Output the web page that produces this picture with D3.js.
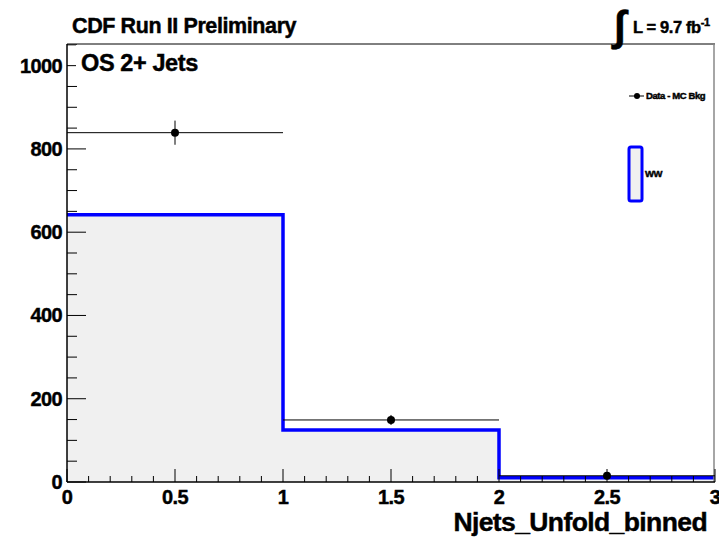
<!DOCTYPE html>
<html><head><meta charset="utf-8">
<script src="https://cdn.jsdelivr.net/npm/d3@7"></script>
<style>body{margin:0;background:#fff}svg{display:block}text{font-family:"Liberation Sans",Arial,sans-serif;font-weight:bold;stroke:#000;stroke-width:0.45px}</style>
</head><body>
<script>
const binEdges = [0, 1, 2, 3];
const mcWW = [642, 125, 10];
const dataX = [0.5, 1.5, 2.5];
const dataY = [839, 149, 15];
const dataErr = [29, 12, 4];
const xTicks = [0, 0.5, 1, 1.5, 2, 2.5, 3];
const yTicks = [0, 200, 400, 600, 800, 1000];

const W = 719, H = 539;
const svg = d3.select("body").append("svg").attr("width", W).attr("height", H);
const L = 67, R = 715, T = 44, B = 482;
const x = d3.scaleLinear().domain([0, 3]).range([L, R]);
const y = d3.scaleLinear().domain([0, 1052]).range([B, T]);

// histogram fill + outline
const stepPts = [];
mcWW.forEach((v, i) => { stepPts.push([binEdges[i], v]); stepPts.push([binEdges[i + 1], v]); });
const area = d3.area().x(d => x(d[0])).y0(y(0)).y1(d => y(d[1]));
svg.append("path").datum(stepPts).attr("d", area).attr("fill", "#f0f0f0");
const line = d3.line().x(d => x(d[0])).y(d => y(d[1]));
svg.append("path").datum(stepPts).attr("d", line).attr("fill", "none")
  .attr("stroke", "#0000ff").attr("stroke-width", 3.5);

// frame top and right
svg.append("line").attr("x1", L).attr("x2", R).attr("y1", T).attr("y2", T).attr("stroke", "#000").attr("stroke-width", 1);
svg.append("line").attr("x1", R - 1).attr("x2", R - 1).attr("y1", T).attr("y2", B).attr("stroke", "#888").attr("stroke-width", 1.5);

// axes ticks (ROOT style, inward)
const g = svg.append("g");
d3.range(0, 1052, 50).forEach(v => {
  const major = v % 200 === 0;
  g.append("line").attr("x1", L).attr("x2", L + (major ? 19 : 10))
    .attr("y1", y(v)).attr("y2", y(v)).attr("stroke", "#000").attr("stroke-width", 1);
});
d3.range(0, 31).forEach(k => {
  const v = k / 10;
  const major = k % 5 === 0;
  g.append("line").attr("x1", x(v)).attr("x2", x(v))
    .attr("y1", B).attr("y2", B - (major ? 13 : 6)).attr("stroke", "#000").attr("stroke-width", 1);
});
g.append("line").attr("x1", L).attr("x2", L).attr("y1", T).attr("y2", B).attr("stroke", "#000").attr("stroke-width", 1.5);
g.append("line").attr("x1", L).attr("x2", R).attr("y1", B).attr("y2", B).attr("stroke", "#000").attr("stroke-width", 1.5);

// tick labels
yTicks.forEach(v => {
  svg.append("text").attr("x", 62).attr("y", y(v) + 7).attr("text-anchor", "end")
    .attr("font-size", 20).attr("letter-spacing", -0.6).text(v);
});
xTicks.forEach(v => {
  svg.append("text").attr("x", x(v)).attr("y", 504).attr("text-anchor", "middle")
    .attr("font-size", 20).attr("letter-spacing", -0.6).text(v);
});

// data points with errors
dataX.forEach((xv, i) => {
  const gx = svg.append("g");
  gx.append("line").attr("x1", x(xv - 0.5)).attr("x2", x(xv + 0.5)).attr("y1", y(dataY[i])).attr("y2", y(dataY[i]))
    .attr("stroke", "#000").attr("stroke-width", 1);
  gx.append("line").attr("x1", x(xv)).attr("x2", x(xv)).attr("y1", y(dataY[i] - dataErr[i])).attr("y2", y(dataY[i] + dataErr[i]))
    .attr("stroke", "#000").attr("stroke-width", 1);
  gx.append("circle").attr("cx", x(xv)).attr("cy", y(dataY[i])).attr("r", 4).attr("fill", "#000");
});

// label pave (white) covering ticks near top-left
svg.append("rect").attr("x", 76).attr("y", 45).attr("width", 135).attr("height", 34).attr("fill", "#fff");

// titles
svg.append("text").attr("x", 72).attr("y", 33).attr("font-size", 21.5).attr("letter-spacing", -0.4).text("CDF Run II Preliminary");
svg.append("text").attr("x", 81).attr("y", 71).attr("font-size", 23.5).attr("letter-spacing", -0.4).text("OS 2+ Jets");
svg.append("text").attr("x", 707).attr("y", 531).attr("text-anchor", "end").attr("font-size", 26.5).attr("letter-spacing", -0.6).text("Njets_Unfold_binned");

// luminosity
svg.append("text").attr("x", 614).attr("y", 40).attr("font-size", 42).attr("font-weight", "normal").attr("stroke-width", 0.8)
  .attr("font-family", "DejaVu Sans").text("\u222B");
const lum = svg.append("text").attr("x", 633).attr("y", 33).attr("font-size", 16.5).attr("letter-spacing", -0.4);
lum.append("tspan").text("L = 9.7 fb");
lum.append("tspan").attr("dy", -7).attr("font-size", 11).text("-1");

// legend
svg.append("line").attr("x1", 629).attr("x2", 644).attr("y1", 96).attr("y2", 96).attr("stroke", "#000").attr("stroke-width", 1);
svg.append("circle").attr("cx", 637).attr("cy", 96).attr("r", 3).attr("fill", "#000");
svg.append("text").attr("x", 646).attr("y", 99).attr("font-size", 9.5).attr("letter-spacing", -0.4).attr("stroke-width", 0.2).text("Data - MC Bkg");
svg.append("rect").attr("x", 629).attr("y", 147).attr("width", 13).attr("height", 54).attr("rx", 2)
  .attr("fill", "#f0f0f0").attr("stroke", "#0000ff").attr("stroke-width", 3);
svg.append("text").attr("x", 645).attr("y", 177).attr("font-size", 9.5).attr("letter-spacing", -0.4).attr("stroke-width", 0.2).text("WW");
</script>
</body></html>
